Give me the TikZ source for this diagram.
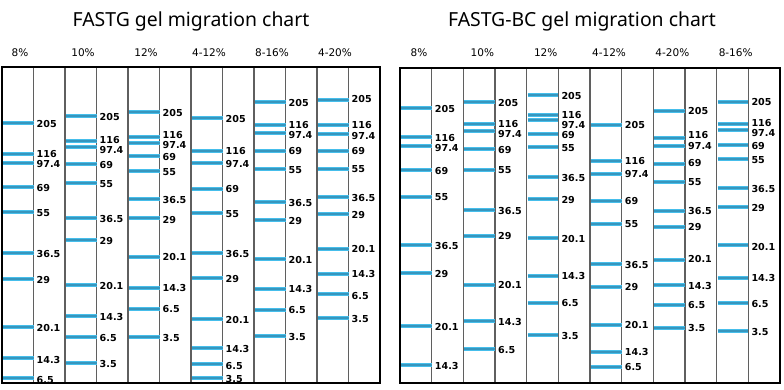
\documentclass[tikz,border=0pt]{standalone}
\usepackage{fontspec}
\setmainfont{DejaVu Sans}
\newfontfamily\titlefont{Noto Sans}
\definecolor{bandlight}{RGB}{70,190,235}
\definecolor{banddark}{RGB}{55,150,190}
\definecolor{divgray}{RGB}{95,95,95}
\tikzset{
  bandouter/.style={draw=bandlight, line width=3.6pt},
  bandinner/.style={draw=banddark, line width=1.4pt},
  lbl/.style={anchor=west, inner sep=0pt, font=\bfseries\fontsize{9.6}{9.6}\selectfont},
  hdr/.style={inner sep=0pt, font=\fontsize{10.5}{10.5}\selectfont},
  ttl/.style={inner sep=0pt, font=\titlefont\fontsize{19.4}{20}\selectfont},
  divider/.style={draw=divgray, line width=1.2pt},
  frame/.style={draw=black, line width=2.4pt},
}
% #1 = left x of lane, #2 = divider x, #3 = list y/label/labely
\newcommand\gellane[3]{%
  \foreach \by/\bl/\bly in {#3}{%
    \draw[bandouter] (#1+1,\by) -- (#2,\by);
    \draw[bandinner] (#1+1,\by) -- (#2,\by);
    \node[lbl] at (#2+3,\bly) {\bl};
  }%
}
\begin{document}
\begin{tikzpicture}[x=1pt,y=-1pt]
\useasboundingbox[fill=white] (0,0) rectangle (784,390);

% titles
\node[ttl] (t1) at (191,21) {FASTG gel migration chart};
\node[ttl] (t2) at (582,21) {FASTG-BC gel migration chart};

% ---------- left panel ----------
\foreach \k in {1,...,11}{\draw[divider] ({2+31.5*\k},67) -- ({2+31.5*\k},383);}
\draw[frame] (2,67) rectangle (380,383);

\foreach \i/\h in {0/8\%,1/10\%,2/12\%,3/4-12\%,4/8-16\%,5/4-20\%}{
  \node[hdr] (lh\i) at ({2+63*\i+18},53) {\h};
}

\gellane{2}{33.5}{123/205/124, 154/116/154, 163/97.4/164, 187/69/188, 212/55/213, 253/36.5/254, 279/29/280, 327/20.1/328, 358/14.3/360, 378/6.5/380}
\gellane{65}{96.5}{116/205/117, 141/116/140, 147/97.4/150, 164/69/165, 183/55/184, 218/36.5/219, 240/29/241, 285/20.1/286, 316/14.3/317, 337/6.5/338, 363/3.5/364}
\gellane{128}{159.5}{112/205/113, 137/116/135, 143/97.4/145, 156/69/157, 171/55/172, 199/36.5/200, 218/29/220, 257/20.1/257, 288/14.3/288, 309/6.5/309, 337/3.5/338}
\gellane{191}{222.5}{118/205/119, 151/116/151, 163/97.4/164, 189/69/189, 213/55/214, 253/36.5/254, 278/29/279, 319/20.1/320, 348/14.3/349, 364/6.5/366, 378/3.5/379}
\gellane{254}{285.5}{102/205/103, 125/116/125, 133/97.4/135, 151/69/151, 169/55/170, 202/36.5/203, 220/29/221, 259/20.1/260, 289/14.3/289, 310/6.5/310, 336/3.5/337}
\gellane{317}{348.5}{100/205/99, 125/116/125, 134/97.4/136, 151/69/151, 169/55/169, 197/36.5/198, 214/29/215, 249/20.1/249, 274/14.3/274, 294/6.5/296, 318/3.5/319}

% ---------- right panel ----------
\foreach \k in {1,...,11}{\draw[divider] ({400+31.667*\k},68) -- ({400+31.667*\k},383);}
\draw[frame] (400,68) rectangle (780,383);

\foreach \i/\h in {0/8\%,1/10\%,2/12\%,3/4-12\%,4/4-20\%,5/8-16\%}{
  \node[hdr] (rh\i) at ({400+63.333*\i+19},53) {\h};
}

\gellane{400}{431.7}{108/205/109, 137/116/138, 146/97.4/148, 170/69/171, 197/55/197, 245/36.5/246, 273/29/274, 326/20.1/327, 365/14.3/366}
\gellane{463.3}{495}{102/205/103, 124/116/124, 131/97.4/134.5, 149/69/150, 170/55/170, 210/36.5/211, 236/29/236, 285/20.1/285, 321/14.3/322, 349/6.5/350}
\gellane{526.7}{558.3}{95/205/96, 115/116/115, 120/97.4/125, 134/69/135, 147/55/148, 177/36.5/178, 199/29/200, 238/20.1/239, 276/14.3/276, 303/6.5/303, 335/3.5/336}
\gellane{590}{621.7}{125/205/125, 161/116/161, 174/97.4/174, 201/69/201, 224/55/224, 264/36.5/265, 287/29/287, 325/20.1/325, 352/14.3/352, 367/6.5/367}
\gellane{653.3}{685}{111/205/111, 138/116/135.5, 146/97.4/146, 164/69/163, 182/55/182, 211/36.5/211, 227/29/227, 260/20.1/259, 285/14.3/286, 305/6.5/305, 328/3.5/328}
\gellane{716.7}{748.3}{102/205/102, 124/116/123, 130/97.4/133, 145/69/146, 159/55/160, 188/36.5/189, 207/29/208, 245/20.1/247, 278/14.3/278, 303/6.5/304, 331/3.5/332}
\end{tikzpicture}
\end{document}
